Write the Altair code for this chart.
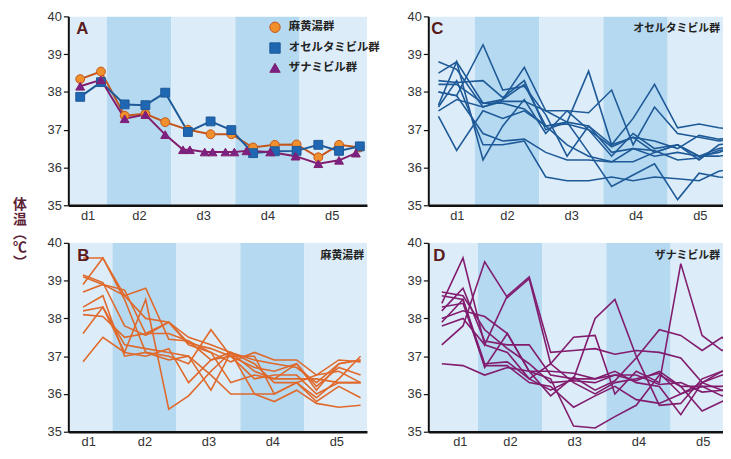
import altair as alt
import pandas as pd

# ---------------- data ----------------
GROUPS = ["麻黄湯群", "オセルタミビル群", "ザナミビル群"]
Y_DOMAIN = [35, 40]

# Panel A : group means (time in day units)
A_T = [0.585, 0.908, 1.277, 1.6, 1.908, 2.262, 2.615, 2.938, 3.277, 3.615, 3.954, 4.292, 4.615, 4.938]
A_MAOTO = [38.34, 38.54, 37.37, 37.42, 37.2, 37.0, 36.88, 36.88, 36.53, 36.6, 36.61, 36.27, 36.6, 36.53]
A_OSEL = [37.87, 38.26, 37.67, 37.65, 37.98, 36.94, 37.22, 36.99, 36.38, 36.43, 36.44, 36.6, 36.44, 36.56]
A_ZANA_T = [0.585, 0.908, 1.277, 1.6, 1.908, 2.185, 2.292, 2.523, 2.646, 2.846, 2.985, 3.174,
            3.543, 3.938, 4.292, 4.615, 4.877]
A_ZANA = [38.15, 38.32, 37.29, 37.4, 36.87, 36.47, 36.47, 36.41, 36.41, 36.41, 36.41, 36.44,
          36.41, 36.3, 36.1, 36.19, 36.38]

# Panel B : 麻黄湯群 individual patients
B_T = [0.54, 0.85, 1.19, 1.52, 1.88, 2.19, 2.54, 2.85, 3.22, 3.53, 3.88, 4.19, 4.54, 4.88]
B_LINES = [
    [39.6, 39.6, 38.6, 38.0, 37.9, 37.5, 37.3, 37.1, 36.9, 36.8, 36.7, 36.3, 36.8, 36.9],
    [39.1, 38.9, 38.75, 37.6, 37.6, 37.4, 37.1, 36.85, 37.1, 36.9, 36.9, 36.5, 36.9, 36.85],
    [39.15, 38.95, 37.8, 37.55, 37.9, 37.35, 37.2, 37.0, 36.7, 36.6, 36.8, 36.2, 36.7, 36.5],
    [38.9, 39.6, 38.5, 37.1, 37.0, 36.8, 37.7, 37.0, 36.4, 36.5, 36.5, 36.0, 36.3, 36.3],
    [38.7, 38.9, 38.6, 38.8, 37.45, 37.4, 36.9, 37.0, 37.0, 36.0, 36.3, 35.8, 36.2, 35.9],
    [38.2, 38.3, 37.3, 37.2, 37.1, 37.0, 36.1, 37.1, 36.6, 36.4, 36.4, 36.4, 36.3, 36.3],
    [38.3, 38.6, 37.0, 37.1, 36.9, 37.0, 36.5, 36.0, 36.0, 35.8, 36.1, 35.75, 35.65, 35.7],
    [37.6, 38.3, 37.1, 38.5, 35.6, 35.95, 36.6, 37.1, 36.0, 36.0, 36.3, 35.9, 36.4, 37.0],
    [38.1, 38.05, 37.5, 37.6, 37.9, 37.3, 37.1, 36.3, 36.5, 36.4, 36.8, 36.1, 36.8, 36.9],
    [36.85, 37.5, 37.1, 37.0, 37.2, 36.3, 36.9, 37.1, 36.8, 36.3, 36.3, 36.5, 36.6, 36.3],
]

# Panel C : オセルタミビル群 individual patients
C_T = [0.435, 0.718, 1.128, 1.435, 1.77, 2.103, 2.435, 2.77, 3.128, 3.462, 3.795, 4.154, 4.488, 4.795, 5.14]
C_LINES = [
    [38.8, 38.6, 37.6, 37.8, 38.2, 37.1, 37.2, 37.1, 36.6, 36.8, 36.4, 36.6, 36.3, 36.5, 36.6],
    [38.5, 38.8, 37.7, 37.8, 38.65, 37.5, 37.5, 37.45, 38.05, 36.6, 37.6, 36.9, 36.8, 36.7, 36.8],
    [38.3, 38.25, 38.3, 37.85, 38.3, 37.0, 37.2, 38.55, 36.6, 37.3, 38.2, 37.05, 37.15, 37.05, 37.0],
    [38.0, 37.9, 39.25, 38.05, 38.15, 37.4, 36.3, 37.1, 36.4, 36.5, 36.3, 36.4, 36.3, 36.4, 36.6],
    [37.65, 38.8, 36.2, 37.1, 37.8, 36.9, 37.5, 37.0, 36.3, 36.9, 36.5, 36.6, 36.2, 36.6, 36.7],
    [37.5, 37.8, 37.6, 37.75, 37.75, 37.5, 37.2, 36.4, 35.5, 35.8, 36.1, 35.15, 35.85, 35.75, 35.7],
    [37.35, 36.45, 37.5, 37.3, 37.5, 37.1, 36.6, 36.3, 36.15, 36.15, 36.4, 36.6, 36.3, 36.3, 36.4],
    [38.0, 37.9, 36.9, 36.7, 36.75, 36.4, 36.2, 36.2, 36.15, 36.5, 36.45, 36.2, 36.25, 36.45, 36.5],
    [37.6, 38.3, 36.6, 36.6, 36.7, 35.75, 35.65, 35.65, 35.75, 35.65, 35.75, 35.7, 35.65, 35.9, 36.0],
    [38.2, 38.2, 37.7, 37.7, 37.55, 37.1, 37.15, 37.0, 36.55, 36.8, 36.7, 36.5, 36.85, 36.75, 36.8],
]

# Panel D : ザナミビル群 individual patients
D_T = [0.44, 0.77, 1.107, 1.46, 1.8, 2.133, 2.49, 2.825, 3.133, 3.465, 3.825, 4.158, 4.49, 4.8, 5.14]
D_LINES = [
    [38.4, 39.6, 37.3, 38.6, 39.1, 37.1, 37.15, 37.2, 37.05, 37.15, 37.1, 36.95, 36.3, 36.1, 36.0],
    [37.3, 37.8, 39.5, 38.55, 39.05, 36.8, 37.5, 37.55, 36.0, 36.6, 36.3, 39.45, 37.55, 37.15, 37.55],
    [38.2, 38.8, 37.4, 37.3, 37.3, 36.5, 36.4, 38.0, 38.5, 37.0, 35.7, 35.75, 36.4, 36.6, 36.7],
    [38.6, 38.5, 36.7, 37.6, 36.6, 36.4, 35.15, 35.1, 35.4, 35.7, 36.5, 36.2, 36.2, 36.2, 36.3],
    [38.7, 38.6, 37.7, 37.2, 36.8, 36.3, 36.35, 36.3, 36.5, 36.35, 36.6, 36.2, 35.55, 35.8, 36.1],
    [37.9, 38.5, 36.8, 36.85, 36.4, 36.1, 36.4, 36.4, 36.6, 36.3, 36.2, 35.45, 36.3, 36.5, 36.6],
    [36.8, 36.75, 36.5, 36.7, 36.6, 36.6, 36.55, 36.4, 36.5, 36.5, 36.25, 36.3, 36.05, 36.1, 36.0],
    [38.0, 38.2, 38.05, 37.6, 36.6, 35.95, 36.45, 36.1, 36.35, 36.95, 37.7, 37.55, 37.15, 37.5, 37.0],
    [38.3, 38.4, 36.75, 36.75, 36.3, 36.2, 35.65, 35.95, 36.2, 35.85, 35.75, 36.0, 36.3, 36.6, 36.5],
    [37.8, 38.0, 37.3, 37.1, 36.4, 36.8, 36.3, 36.0, 36.3, 36.4, 36.55, 36.0, 36.2, 35.95, 36.2],
]

# day bands
BAND_START = [0, 1, 2, 3, 4]
BAND_END = [1, 2, 3, 4, 6]
BAND_SHADE = ["light", "dark", "light", "dark", "light"]

# ---------------- styling ----------------
JP_FONT = "Noto Sans CJK JP"
NUM_FONT = "Liberation Sans"
LIGHT_BAND = "#dcedf9"
DARK_BAND = "#b4d9f0"
ORANGE = "#e0692c"
BLUE = "#1f5a98"
PURPLE = "#821c6e"
LETTER_COLOR = "#5a1a1c"

W1, W2, H = 302, 298, 191


def long_df(times, lines):
    rows = []
    for pid, series in enumerate(lines):
        for t, v in zip(times, series):
            rows.append({"pid": pid, "t": t, "temp": v})
    return pd.DataFrame(rows)


def make_axes(d1pos):
    xa = alt.Axis(values=[d1pos, 1.5, 2.5, 3.5, 4.5],
                  labelExpr="datum.value < 1 ? 'd1' : 'd' + ceil(datum.value)",
                  ticks=False, grid=False, title=None, domainColor="#111", domainWidth=2.5,
                  labelFontSize=13, labelColor="#333", labelPadding=4, labelFont=NUM_FONT, zindex=1)
    ya = alt.Axis(values=[35, 36, 37, 38, 39, 40], ticks=True, tickSize=5, tickColor="#111",
                  tickWidth=1.2, grid=False, title=None, domainColor="#111", domainWidth=2,
                  labelFontSize=13, labelColor="#333", labelPadding=2, labelFont=NUM_FONT, zindex=1)
    return xa, ya


def panel(domain, d1pos, width, line_layers, letter, letter_x, group_label=None, extra=None):
    xa, ya = make_axes(d1pos)
    xs = alt.Scale(domain=domain, nice=False, zero=False)
    ys = alt.Scale(domain=Y_DOMAIN, nice=False, zero=False)
    bands = pd.DataFrame({"start": BAND_START, "end": BAND_END, "shade": BAND_SHADE,
                          "lo": [Y_DOMAIN[0]] * 5, "hi": [Y_DOMAIN[1]] * 5})
    band_layer = alt.Chart(bands).mark_rect(clip=True).encode(
        x=alt.X("start:Q", scale=xs, axis=xa),
        x2="end:Q",
        y=alt.Y("lo:Q", scale=ys, axis=ya),
        y2="hi:Q",
        fill=alt.Fill("shade:N", scale=alt.Scale(domain=["light", "dark"], range=[LIGHT_BAND, DARK_BAND]),
                      legend=None),
    )
    layers = [band_layer]
    for lyr in line_layers:
        layers.append(lyr(xs, ys, xa, ya))
    layers.append(
        alt.Chart(pd.DataFrame({"label": [letter]})).mark_text(
            align="left", baseline="middle", fontSize=17, fontWeight="bold", font=NUM_FONT,
            color=LETTER_COLOR).encode(text="label:N", x=alt.value(letter_x), y=alt.value(13))
    )
    if group_label:
        layers.append(
            alt.Chart(pd.DataFrame({"label": [group_label]})).mark_text(
                align="right", baseline="middle", fontSize=11, font=JP_FONT, fontWeight="bold",
                color="#222").encode(text="label:N", x=alt.value(width - 3), y=alt.value(13))
        )
    if extra is not None:
        layers.append(extra)
    return alt.layer(*layers).properties(width=width, height=H)


def spaghetti(df, color):
    def build(xs, ys, xa, ya):
        return alt.Chart(df).mark_line(clip=True, strokeWidth=1.6, color=color).encode(
            x=alt.X("t:Q", scale=xs, axis=xa),
            y=alt.Y("temp:Q", scale=ys, axis=ya),
            detail="pid:N",
        )
    return build


# ---- Panel A ----
a_df = pd.concat([
    pd.DataFrame({"group": GROUPS[0], "t": A_T, "temp": A_MAOTO}),
    pd.DataFrame({"group": GROUPS[1], "t": A_T, "temp": A_OSEL}),
    pd.DataFrame({"group": GROUPS[2], "t": A_ZANA_T, "temp": A_ZANA}),
], ignore_index=True)

legend_cfg = dict(title=None, orient="none", legendX=203, legendY=5, labelFont=JP_FONT,
                  labelFontSize=11.5, labelFontWeight="bold", labelColor="#222", symbolSize=110,
                  rowPadding=5, labelOffset=8, padding=0, labelLimit=200, zindex=2,
                  symbolStrokeWidth=1)

STROKE_SCALE = alt.Scale(domain=GROUPS, range=["#c4561c", BLUE, PURPLE])


def a_lines(xs, ys, xa, ya):
    return alt.Chart(a_df).mark_line(strokeWidth=2, clip=True).encode(
        x=alt.X("t:Q", scale=xs, axis=xa),
        y=alt.Y("temp:Q", scale=ys, axis=ya),
        stroke=alt.Stroke("group:N", scale=STROKE_SCALE, legend=alt.Legend(**legend_cfg)),
    )


def a_points(xs, ys, xa, ya):
    return alt.Chart(a_df).mark_point(filled=True, opacity=1, size=80, clip=True, strokeWidth=1).encode(
        x=alt.X("t:Q", scale=xs, axis=xa),
        y=alt.Y("temp:Q", scale=ys, axis=ya),
        color=alt.Color("group:N", scale=alt.Scale(domain=GROUPS, range=["#f0902c", "#1f67b3", "#7a2183"]),
                        legend=alt.Legend(**legend_cfg)),
        stroke=alt.Stroke("group:N", scale=STROKE_SCALE, legend=alt.Legend(**legend_cfg)),
        shape=alt.Shape("group:N", scale=alt.Scale(domain=GROUPS, range=["circle", "square", "triangle-up"]),
                        legend=alt.Legend(**legend_cfg)),
    )


panel_a = panel([0.4, 5.05], 0.7, W1, [a_lines, a_points], "A", 8)

# ---- Panel B ----
ylabel = alt.Chart(pd.DataFrame({"label": ["体\n温\n︵\n℃\n︶"]})).mark_text(
    lineBreak="\n", align="center", baseline="middle", fontSize=14, fontWeight="bold",
    font=JP_FONT, color="#5c2235", lineHeight=14.5).encode(
    text="label:N", x=alt.value(-49), y=alt.value(-38))

panel_b = panel([0.31, 4.98], 0.62, W1, [spaghetti(long_df(B_T, B_LINES), ORANGE)], "B", 9,
                group_label="麻黄湯群", extra=ylabel)

# ---- Panel C ----
panel_c = panel([0.277, 4.86], 0.72, W2, [spaghetti(long_df(C_T, C_LINES), BLUE)], "C", 3,
                group_label="オセルタミビル群")

# ---- Panel D ----
panel_d = panel([0.23, 4.815], 0.72, W2, [spaghetti(long_df(D_T, D_LINES), PURPLE)], "D", 5,
                group_label="ザナミビル群")

chart = alt.concat(panel_a, panel_c, panel_b, panel_d, columns=2,
                   spacing={"row": 38, "column": 62}, bounds="flush").properties(
    padding={"left": 5, "top": 0, "right": 0, "bottom": 0}
).configure_view(stroke=None).resolve_scale(fill="independent", x="independent", y="independent")

chart.save("out.html", embed_options={"renderer": "svg", "actions": False})
